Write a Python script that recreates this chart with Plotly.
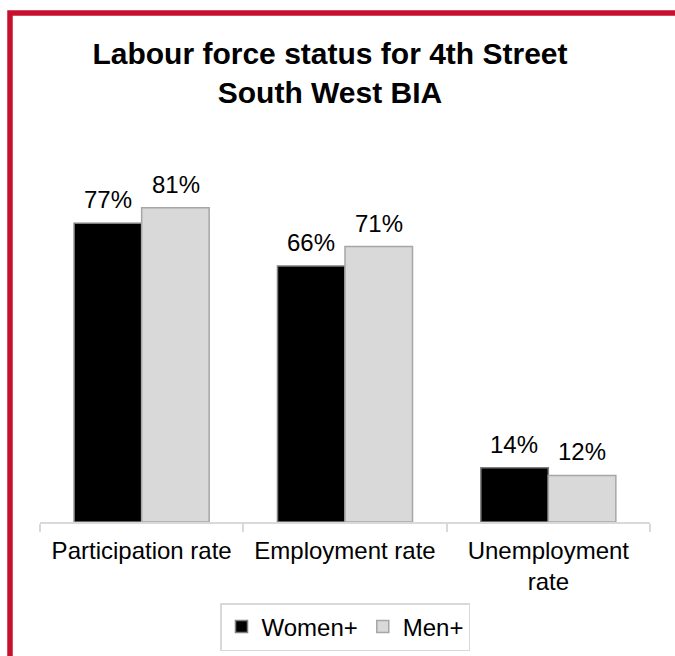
import plotly.graph_objects as go

categories = ["Participation rate", "Employment rate", "Unemployment<br>rate"]
women = [77, 66, 14]
men = [81, 71, 12]
women_labels = ["77%", "66%", "14%"]
men_labels = ["81%", "71%", "12%"]

FONT = "Liberation Sans, Arial, sans-serif"
L, R, T, B = 40, 25, 150, 134
W, H = 675, 656
PW, PH = W - L - R, H - T - B
YMAX = 95.9

def px_x(px):
    return (px - L) / PW

def px_y(py):
    return (H - B - py) / PH

fig = go.Figure()
fig.add_trace(go.Bar(
    name="Women+", x=categories, y=women,
    marker=dict(color="#000000", line=dict(color="#7f7f7f", width=1.5)),
))
fig.add_trace(go.Bar(
    name="Men+", x=categories, y=men,
    marker=dict(color="#d9d9d9", line=dict(color="#a6a6a6", width=1.5)),
))

annotations = []
for cat, v, t in zip(categories, women, women_labels):
    annotations.append(dict(x=cat, y=v, text=t, xref="x", yref="y", showarrow=False,
                            xshift=-34, yanchor="bottom", yshift=8,
                            font=dict(family=FONT, size=24, color="#000000")))
for cat, v, t in zip(categories, men, men_labels):
    annotations.append(dict(x=cat, y=v, text=t, xref="x", yref="y", showarrow=False,
                            xshift=34, yanchor="bottom", yshift=8,
                            font=dict(family=FONT, size=24, color="#000000")))

fig.update_layout(
    width=W, height=H,
    margin=dict(l=L, r=R, t=T, b=B, pad=0, autoexpand=False),
    paper_bgcolor="#ffffff", plot_bgcolor="#ffffff",
    barmode="group", bargap=0.336, bargroupgap=0,
    font=dict(family=FONT, size=24, color="#000000"),
    title=dict(text="<b>Labour force status for 4th Street<br>South West BIA</b>",
               x=330 / W, xanchor="center", xref="container",
               y=1 - 64 / H, yanchor="top", yref="container",
               font=dict(family=FONT, size=30, color="#000000")),
    xaxis=dict(showline=True, linecolor="#d9d9d9", linewidth=1.5,
               ticks="outside", tickson="boundaries", ticklen=8, tickcolor="#d9d9d9",
               tickwidth=1.5, showgrid=False, ticklabelstandoff=6, automargin=False,
               tickfont=dict(size=24, color="#000000")),
    yaxis=dict(visible=False, range=[0, YMAX]),
    legend=dict(orientation="h", x=0.5, xanchor="center", y=px_y(603), yanchor="top",
                bordercolor="#d9d9d9", borderwidth=1.5, itemwidth=30,
                font=dict(size=24, color="#000000")),
    showlegend=True,
    annotations=annotations,
    shapes=[dict(type="rect", xref="paper", yref="paper",
                 x0=px_x(10), y0=px_y(760), x1=px_x(760), y1=px_y(13),
                 line=dict(color="#c8102e", width=5.5), fillcolor="rgba(0,0,0,0)",
                 layer="above")],
)

fig.write_html("out.html", config={"displayModeBar": False},
               post_script="document.body.style.margin='0';document.body.style.overflow='hidden';")
